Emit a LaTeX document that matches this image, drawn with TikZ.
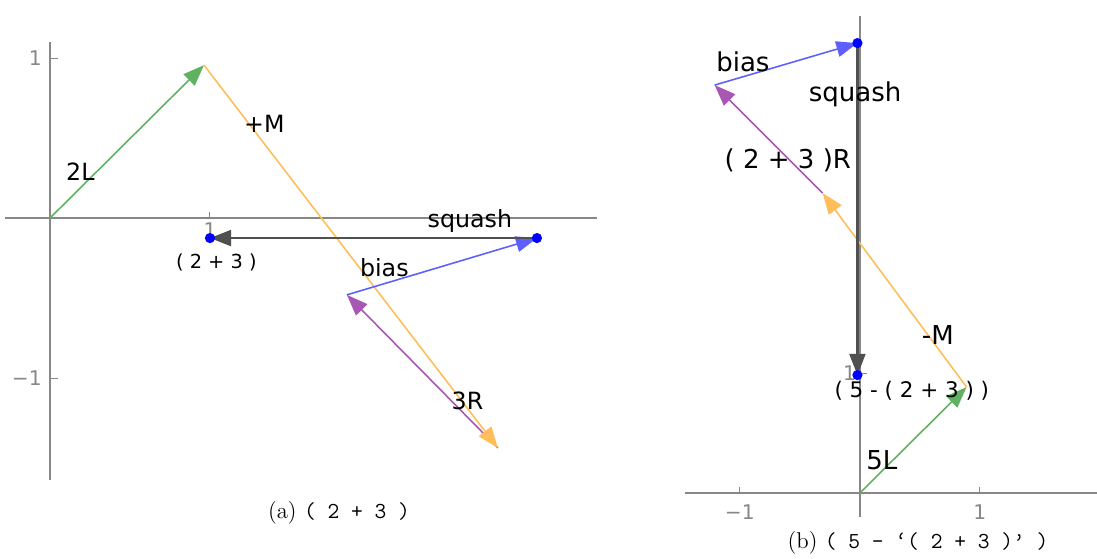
\documentclass[tikz,border=0pt]{standalone}
\usepackage{fontspec}
\usepackage{tikz}
\usetikzlibrary{arrows.meta, positioning, calc}
\newfontfamily\plotfont{DejaVu Sans}

\definecolor{vecgreen}{RGB}{95,178,95}
\definecolor{vecorange}{RGB}{255,190,90}
\definecolor{vecpurple}{RGB}{168,88,178}
\definecolor{vecblue}{RGB}{95,95,255}
\definecolor{vecgray}{RGB}{80,80,80}
\definecolor{axisgray}{RGB}{135,135,135}

\tikzset{
  vec/.style={line width=0.9pt, -{Triangle[length=12pt, width=9pt]}},
  axisline/.style={axisgray, line width=0.8pt},
  axtick/.style={axisgray, line width=0.6pt},
  lab/.style={inner sep=0pt, font=\plotfont\fontsize{13.5}{16}\selectfont},
  smalllab/.style={inner sep=0pt, font=\plotfont\fontsize{11}{13}\selectfont},
  ticklab/.style={inner sep=0pt, axisgray, font=\plotfont\fontsize{11.5}{13}\selectfont},
  bluedot/.style={circle, fill=blue, inner sep=0pt, minimum size=5.8pt},
  caption/.style={inner sep=0pt, font=\fontsize{13}{15}\selectfont},
}

\begin{document}
\begin{tikzpicture}[x=0.02cm, y=0.02cm]
    \useasboundingbox (0,0) rectangle (1097,558);

    % (a) ( 2 + 3 )
    \begin{scope}[shift={(1cm,6.8cm)}, x=3.2cm, y=3.2cm]
        \draw[axisline] (-0.28,0) -- (3.42,0);
        \draw[axisline] (0,-1.64) -- (0,1.1);
        \draw[axtick] (1,0) -- (1,0.04);
        \draw[axtick] (0,1) -- (0.05,1);
        \draw[axtick] (0,-1) -- (0.05,-1);
        \node[ticklab, anchor=east] (ay1) at (-0.05,1) {1};
        \node[ticklab, anchor=east] (aym1) at (-0.05,-1) {−1};
        \node[ticklab, anchor=north] (ax1) at (1,-0.025) {1};

        \coordinate (a0) at (0,0);
        \coordinate (a1) at (0.9625,0.956);
        \coordinate (a2) at (2.8,-1.4375);
        \coordinate (a3) at (1.856,-0.48);
        \coordinate (a4) at (3.044,-0.125);
        \coordinate (a5) at (1,-0.125);

        \draw[vec, vecgreen] (a0) -- (a1);
        \draw[vec, vecpurple] (a2) -- (a3);
        \draw[vec, vecorange] (a1) -- (a2);
        \draw[vec, vecblue] (a3) -- (a4);
        \draw[vec, vecgray, line width=1.5pt] (a4) -- (a5);
        \node[bluedot] (adot1) at (a4) {};
        \node[bluedot] (adot2) at (a5) {};

        \node[lab] (a2L) at (0.19,0.29) {2L};
        \node[lab] (aM) at (1.34,0.59) {+M};
        \node[lab] (asquash) at (2.625,-0.02) {squash};
        \node[lab] (abias) at (2.09,-0.31) {bias};
        \node[lab] (a3R) at (2.61,-1.14) {3R};
        \node[smalllab] (asum) at (1.04,-0.28) {( 2 + 3 )};
    \end{scope}

    % (b) ( 5 - '( 2 + 3 )' )
    \begin{scope}[shift={(17.2cm,1.3cm)}, x=2.4cm, y=2.4cm,
                  lab/.append style={font=\plotfont\fontsize{14.8}{17}\selectfont}]
        \draw[axisline] (-1.46,0) -- (1.975,0);
        \draw[axisline] (0,-0.2) -- (0,3.98);
        \draw[axtick] (-1,0) -- (-1,0.05);
        \draw[axtick] (1,0) -- (1,0.05);
        \draw[axtick] (0,1) -- (0.06,1);
        \node[ticklab] (bxm1) at (-1,-0.16) {−1};
        \node[ticklab] (bx1) at (1,-0.16) {1};
        \node[ticklab, anchor=east] (by1) at (-0.03,1) {1};

        \coordinate (b0) at (0,0);
        \coordinate (b1) at (0.89,0.883);
        \coordinate (b2) at (-0.31,2.5);
        \coordinate (b3) at (-1.21,3.4);
        \coordinate (b4) at (-0.02,3.75);
        \coordinate (b5) at (-0.02,0.983);

        \draw[vec, vecgreen] (b0) -- (b1);
        \draw[vec, vecorange] (b1) -- (b2);
        \draw[vec, vecpurple] (b2) -- (b3);
        \draw[vec, vecblue] (b3) -- (b4);
        \draw[vec, vecgray, line width=1.5pt] (b4) -- (b5);
        \node[bluedot] (bdot1) at (b4) {};
        \node[bluedot] (bdot2) at (b5) {};

        \node[lab] (bbias) at (-0.975,3.59) {bias};
        \node[lab] (bsquash) at (-0.04,3.32) {squash};
        \node[lab] (bsumR) at (-0.6,2.775) {( 2 + 3 )R};
        \node[lab] (bM) at (0.65,1.317) {-M};
        \node[smalllab, font=\plotfont\fontsize{12.2}{14}\selectfont] (bdiff) at (0.433,0.85) {( 5 - ( 2 + 3 ) )};
        \node[lab] (b5L) at (0.183,0.275) {5L};
    \end{scope}

    \node[caption] (capa) at (339,45) {(a) \texttt{( 2 + 3 )}};
    \node[caption] (capb) at (918,15) {(b) \texttt{( 5 - ‘( 2 + 3 )’ )}};
\end{tikzpicture}
\end{document}
